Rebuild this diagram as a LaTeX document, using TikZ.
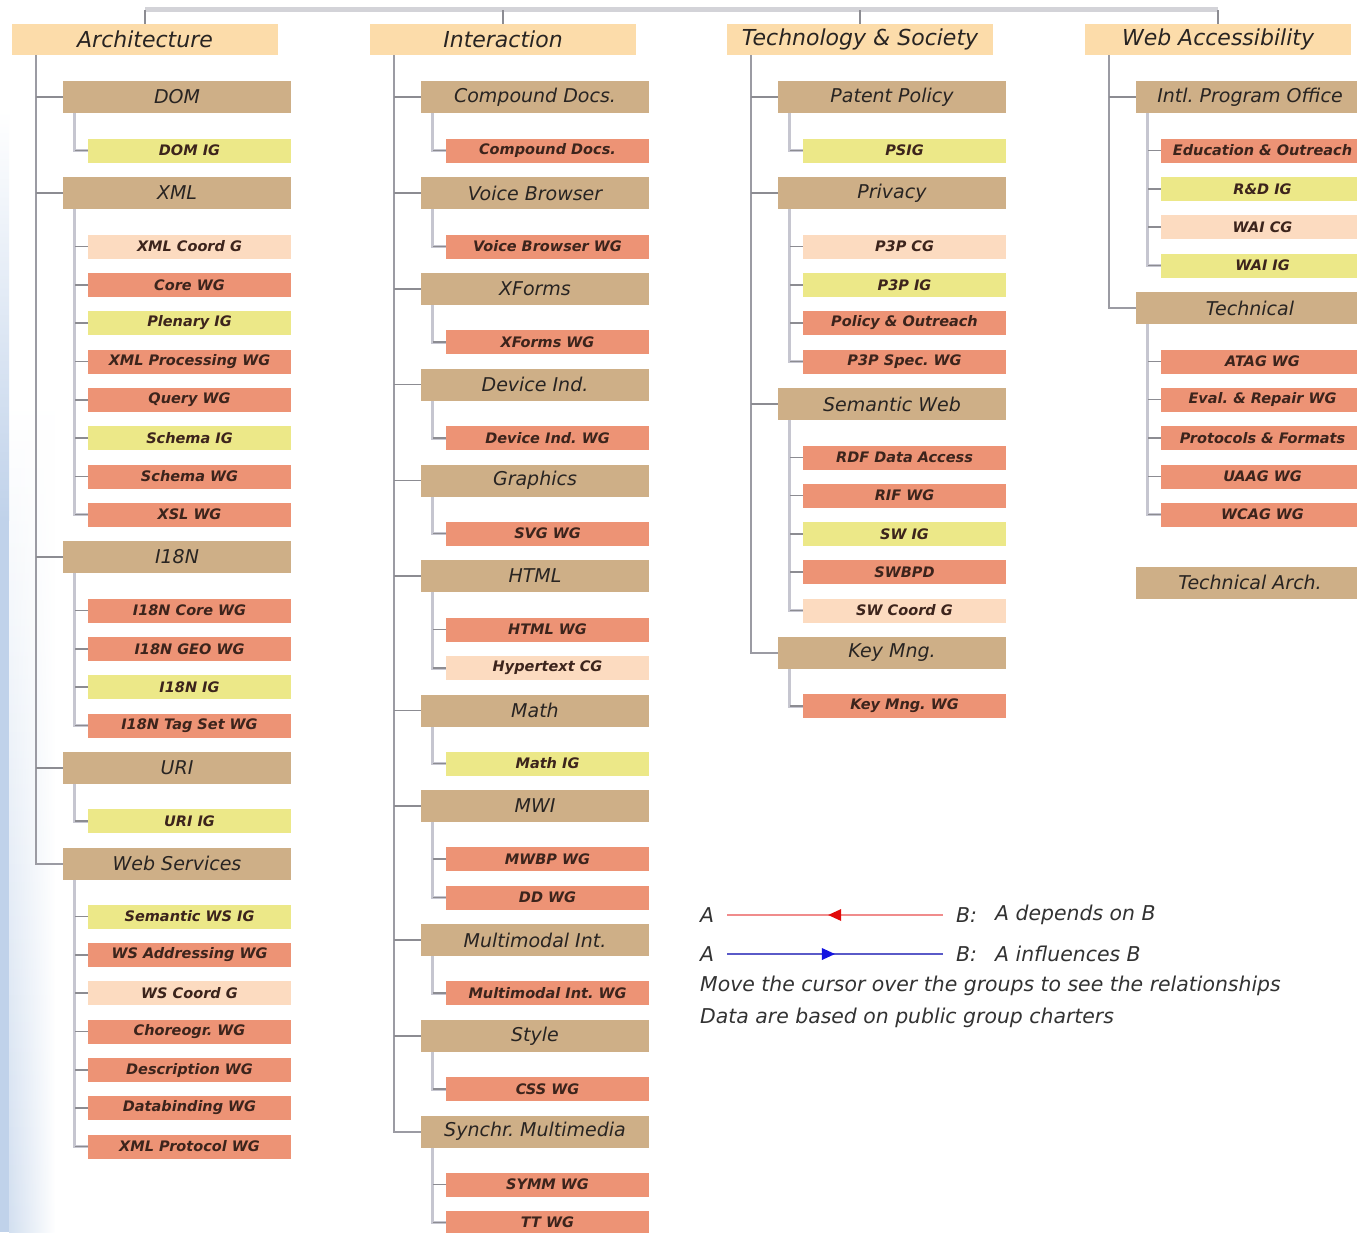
\documentclass[tikz,border=0pt]{standalone}
\usepackage{fontspec}
\setmainfont{DejaVu Sans}
\frenchspacing
\usetikzlibrary{decorations.markings,fadings}
\definecolor{hdrc}{RGB}{252,220,170}
\definecolor{grpc}{RGB}{206,175,135}
\definecolor{wgc}{RGB}{237,147,117}
\definecolor{igc}{RGB}{236,232,136}
\definecolor{cgc}{RGB}{252,219,192}
\definecolor{txtc}{RGB}{40,36,34}
\definecolor{leaftxt}{RGB}{60,36,28}
\definecolor{bgblue}{RGB}{192,210,234}
\definecolor{lred}{RGB}{240,140,140}
\definecolor{dred}{RGB}{225,10,10}
\definecolor{lblue}{RGB}{90,90,200}
\definecolor{dblue}{RGB}{20,20,225}
\newcommand\twigs[1]{\foreach \n in {#1} {\draw[twig] (\n.west) -- ++(-13,0);}}
\newcommand\gtwigs[1]{\foreach \n in {#1} {\draw[twig] (\n.west) -- ++(-27,0);}}
\begin{document}
\begin{tikzpicture}[x=1pt,y=-1pt,
  hdr/.style={fill=hdrc, minimum width=266pt, minimum height=31pt, inner sep=0pt, text=txtc,
    font=\fontsize{22}{25}\selectfont\itshape},
  grp/.style={fill=grpc, minimum width=228pt, minimum height=32pt, inner sep=0pt, text=txtc,
    font=\fontsize{19}{22}\selectfont\itshape},
  leafbox/.style={minimum width=203pt, minimum height=24pt, inner sep=0pt, text=leaftxt,
    font=\fontsize{14.5}{17}\selectfont\bfseries\itshape},
  wgbox/.style={leafbox, fill=wgc},
  igbox/.style={leafbox, fill=igc},
  cgbox/.style={leafbox, fill=cgc},
  trunk/.style={draw={rgb,255:red,155;green,155;blue,163}, line width=2pt},
  subtrunk/.style={draw={rgb,255:red,198;green,198;blue,208}, line width=3pt},
  twig/.style={draw={rgb,255:red,140;green,140;blue,146}, line width=1.5pt},
  topbar/.style={draw={rgb,255:red,211;green,211;blue,216}, line width=4.5pt},
  legtext/.style={inner sep=0pt, anchor=west, text={rgb,255:red,50;green,50;blue,50},
    font=\fontsize{20.4}{23}\selectfont\itshape}
]
\useasboundingbox (0,0) rectangle (1357,1232);
\clip (0,0) rectangle (1357,1232);
\fill[white] (0,0) rectangle (1357,1232);
% background wash on the left edge
\shade[top color=white, bottom color=bgblue!70, path fading=east] (9,400) rectangle (55,1232);
\shade[top color=white, bottom color=bgblue] (0,110) rectangle (9,520);
\fill[bgblue] (0,519) rectangle (9,1232);

% ===== headers =====
\node[hdr] (hA) at (145,39.5) {Architecture};
\node[hdr] (hB) at (503,39.5) {Interaction};
\node[hdr] (hC) at (860,39.5) {Technology \& Society};
\node[hdr] (hD) at (1218,39.5) {Web Accessibility};
\coordinate (topy) at (0,9.5);
\draw[topbar] (hA.north |- topy) -- (hD.north |- topy);
\foreach \h in {hA,hB,hC,hD} {\draw[twig] (\h.north) -- (\h.north |- topy);}

% ===== Column A: Architecture =====
\node[grp] (gDOM) at (177,97) {DOM};
\node[igbox] (a0) at (189.5,150.5) {DOM IG};
\node[grp] (gXML) at (177,193) {XML};
\node[cgbox] (a1) at (189.5,246.5) {XML Coord G};
\node[wgbox] (a2) at (189.5,285) {Core WG};
\node[igbox] (a3) at (189.5,323) {Plenary IG};
\node[wgbox] (a4) at (189.5,361.5) {XML Processing WG};
\node[wgbox] (a5) at (189.5,400) {Query WG};
\node[igbox] (a6) at (189.5,438) {Schema IG};
\node[wgbox] (a7) at (189.5,476.5) {Schema WG};
\node[wgbox] (a8) at (189.5,514.5) {XSL WG};
\node[grp] (gI18N) at (177,557) {I18N};
\node[wgbox] (a9) at (189.5,610.5) {I18N Core WG};
\node[wgbox] (a10) at (189.5,649) {I18N GEO WG};
\node[igbox] (a11) at (189.5,687) {I18N IG};
\node[wgbox] (a12) at (189.5,725.5) {I18N Tag Set WG};
\node[grp] (gURI) at (177,768) {URI};
\node[igbox] (a13) at (189.5,821) {URI IG};
\node[grp] (gWS) at (177,863.5) {Web Services};
\node[igbox] (a14) at (189.5,916.5) {Semantic WS IG};
\node[wgbox] (a15) at (189.5,955) {WS Addressing WG};
\node[cgbox] (a16) at (189.5,993) {WS Coord G};
\node[wgbox] (a17) at (189.5,1031.5) {Choreogr. WG};
\node[wgbox] (a18) at (189.5,1070) {Description WG};
\node[wgbox] (a19) at (189.5,1108) {Databinding WG};
\node[wgbox] (a20) at (189.5,1146.5) {XML Protocol WG};

\draw[trunk] (hA.south west) ++(24,0) |- (gWS.west);
\gtwigs{gDOM,gXML,gI18N,gURI}
\draw[subtrunk] (gDOM.south west) ++(12,0) |- (a0.west);
\draw[subtrunk] (gXML.south west) ++(12,0) |- (a8.west);
\draw[subtrunk] (gI18N.south west) ++(12,0) |- (a12.west);
\draw[subtrunk] (gURI.south west) ++(12,0) |- (a13.west);
\draw[subtrunk] (gWS.south west) ++(12,0) |- (a20.west);
\twigs{a0,a1,a2,a3,a4,a5,a6,a7,a8,a9,a10,a11,a12,a13,a14,a15,a16,a17,a18,a19,a20}

% ===== Column B: Interaction =====
\node[grp] (gCD) at (535,97) {Compound Docs.};
\node[wgbox] (b1) at (547.5,150.5) {Compound Docs.};
\node[grp] (gVB) at (535,193) {Voice Browser};
\node[wgbox] (b2) at (547.5,246.5) {Voice Browser WG};
\node[grp] (gXF) at (535,289) {XForms};
\node[wgbox] (b3) at (547.5,342) {XForms WG};
\node[grp] (gDI) at (535,384.5) {Device Ind.};
\node[wgbox] (b4) at (547.5,438) {Device Ind. WG};
\node[grp] (gGR) at (535,480.5) {Graphics};
\node[wgbox] (b5) at (547.5,533.5) {SVG WG};
\node[grp] (gHT) at (535,576) {HTML};
\node[wgbox] (b6) at (547.5,629.5) {HTML WG};
\node[cgbox] (b7) at (547.5,668) {Hypertext CG};
\node[grp] (gMA) at (535,710.5) {Math};
\node[igbox] (b8) at (547.5,763.5) {Math IG};
\node[grp] (gMW) at (535,806) {MWI};
\node[wgbox] (b9) at (547.5,859) {MWBP WG};
\node[wgbox] (b10) at (547.5,897.5) {DD WG};
\node[grp] (gMM) at (535,940) {Multimodal Int.};
\node[wgbox] (b11) at (547.5,993) {Multimodal Int. WG};
\node[grp] (gST) at (535,1036) {Style};
\node[wgbox] (b12) at (547.5,1089) {CSS WG};
\node[grp] (gSM) at (535,1131.5) {Synchr. Multimedia};
\node[wgbox] (b13) at (547.5,1184.5) {SYMM WG};
\node[wgbox] (b14) at (547.5,1222.5) {TT WG};

\draw[trunk] (hB.south west) ++(24,0) |- (gSM.west);
\gtwigs{gCD,gVB,gXF,gDI,gGR,gHT,gMA,gMW,gMM,gST}
\draw[subtrunk] (gCD.south west) ++(12,0) |- (b1.west);
\draw[subtrunk] (gVB.south west) ++(12,0) |- (b2.west);
\draw[subtrunk] (gXF.south west) ++(12,0) |- (b3.west);
\draw[subtrunk] (gDI.south west) ++(12,0) |- (b4.west);
\draw[subtrunk] (gGR.south west) ++(12,0) |- (b5.west);
\draw[subtrunk] (gHT.south west) ++(12,0) |- (b7.west);
\draw[subtrunk] (gMA.south west) ++(12,0) |- (b8.west);
\draw[subtrunk] (gMW.south west) ++(12,0) |- (b10.west);
\draw[subtrunk] (gMM.south west) ++(12,0) |- (b11.west);
\draw[subtrunk] (gST.south west) ++(12,0) |- (b12.west);
\draw[subtrunk] (gSM.south west) ++(12,0) |- (b14.west);
\twigs{b1,b2,b3,b4,b5,b6,b7,b8,b9,b10,b11,b12,b13,b14}

% ===== Column C: Technology & Society =====
\node[grp] (gPP) at (892,97) {Patent Policy};
\node[igbox] (c1) at (904.5,150.5) {PSIG};
\node[grp] (gPR) at (892,193) {Privacy};
\node[cgbox] (c2) at (904.5,246.5) {P3P CG};
\node[igbox] (c3) at (904.5,285) {P3P IG};
\node[wgbox] (c4) at (904.5,323) {Policy \& Outreach};
\node[wgbox] (c5) at (904.5,361.5) {P3P Spec. WG};
\node[grp] (gSW) at (892,404) {Semantic Web};
\node[wgbox] (c6) at (904.5,457.5) {RDF Data Access};
\node[wgbox] (c7) at (904.5,495.5) {RIF WG};
\node[igbox] (c8) at (904.5,534) {SW IG};
\node[wgbox] (c9) at (904.5,572) {SWBPD};
\node[cgbox] (c10) at (904.5,610.5) {SW Coord G};
\node[grp] (gKM) at (892,653) {Key Mng.};
\node[wgbox] (c11) at (904.5,706) {Key Mng. WG};

\draw[trunk] (hC.south west) ++(24,0) |- (gKM.west);
\gtwigs{gPP,gPR,gSW}
\draw[subtrunk] (gPP.south west) ++(12,0) |- (c1.west);
\draw[subtrunk] (gPR.south west) ++(12,0) |- (c5.west);
\draw[subtrunk] (gSW.south west) ++(12,0) |- (c10.west);
\draw[subtrunk] (gKM.south west) ++(12,0) |- (c11.west);
\twigs{c1,c2,c3,c4,c5,c6,c7,c8,c9,c10,c11}

% ===== Column D: Web Accessibility =====
\node[grp] (gIP) at (1250,97) {Intl. Program Office};
\node[wgbox] (d1) at (1262.5,150.5) {Education \& Outreach};
\node[igbox] (d2) at (1262.5,189) {R\&D IG};
\node[cgbox] (d3) at (1262.5,227) {WAI CG};
\node[igbox] (d4) at (1262.5,265.5) {WAI IG};
\node[grp] (gTE) at (1250,308) {Technical};
\node[wgbox] (d5) at (1262.5,361.5) {ATAG WG};
\node[wgbox] (d6) at (1262.5,399.5) {Eval. \& Repair WG};
\node[wgbox] (d7) at (1262.5,438) {Protocols \& Formats};
\node[wgbox] (d8) at (1262.5,476.5) {UAAG WG};
\node[wgbox] (d9) at (1262.5,514.5) {WCAG WG};
\node[grp] (gTA) at (1250,582.5) {Technical Arch.};

\draw[trunk] (hD.south west) ++(24,0) |- (gTE.west);
\gtwigs{gIP}
\draw[subtrunk] (gIP.south west) ++(12,0) |- (d4.west);
\draw[subtrunk] (gTE.south west) ++(12,0) |- (d9.west);
\twigs{d1,d2,d3,d4,d5,d6,d7,d8,d9}

% ===== legend =====
\node[legtext] (la1) at (700,915) {A};
\node[legtext] (lb1) at (956,915) {B:};
\node[legtext] (lt1) at (995,915) {A depends on B};
\node[legtext] (la2) at (700,954) {A};
\node[legtext] (lb2) at (956,954) {B:};
\node[legtext] (lt2) at (995,954) {A influences B};
\node[legtext] (lt3) at (700,986) {Move the cursor over the groups to see the relationships};
\node[legtext] (lt4) at (700,1018) {Data are based on public group charters};
\draw[lred, line width=2.8pt, shorten <=13pt, shorten >=13pt,
  postaction={decorate, decoration={markings, mark=at position 0.5 with
    {\fill[dred] (-7,0) -- (6,-6) -- (6,6) -- cycle;}}}] (la1) -- (lb1);
\draw[lblue, line width=2.8pt, shorten <=13pt, shorten >=13pt,
  postaction={decorate, decoration={markings, mark=at position 0.47 with
    {\fill[dblue] (7,0) -- (-6,-6) -- (-6,6) -- cycle;}}}] (la2) -- (lb2);
\end{tikzpicture}
\end{document}
